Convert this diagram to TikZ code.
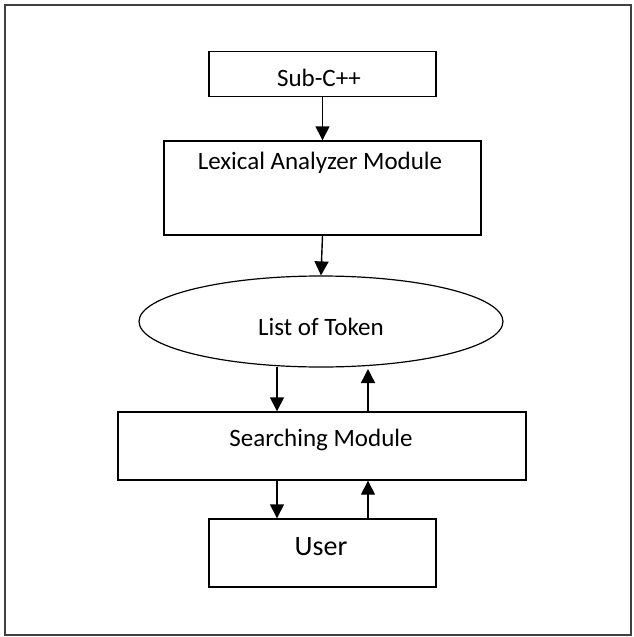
\documentclass[tikz,border=0pt]{standalone}
\usepackage{fontspec}
\setmainfont{Carlito}
\usetikzlibrary{shapes.geometric,arrows.meta}
\begin{document}
\begin{tikzpicture}[x=1pt,y=-1pt,
  box/.style={draw=black,line width=1.4pt,rectangle,inner sep=0pt},
  oval/.style={draw=black,line width=1.2pt,ellipse,inner sep=0pt},
  lbl/.style={font=\fontsize{25}{30}\selectfont},
  arr/.style={draw=black,line width=1.4pt,-{Triangle[length=14pt,width=14pt]}}]
\useasboundingbox (0,0) rectangle (633,637);
\draw[line width=1.6pt,draw=black!75] (5,5) rectangle (631,635);
\node[box,minimum width=227pt,minimum height=45pt] (sub) at (322.5,74) {};
\node[lbl] at (319,78) {Sub-C++};
\node[box,minimum width=317pt,minimum height=94pt] (lex) at (322.5,188) {};
\node[lbl] at (320,163) {Lexical Analyzer Module};
\node[oval,minimum width=364pt,minimum height=91pt] (tok) at (321,321.5) {};
\node[lbl] at (321,327) {List of Token};
\node[box,minimum width=408pt,minimum height=68pt] (srch) at (322,446) {};
\node[lbl] at (321,440) {Searching Module};
\node[box,minimum width=227pt,minimum height=68pt] (user) at (322.5,553) {};
\node[font=\fontsize{28}{34}\selectfont] at (321,547) {User};
\draw[arr] (sub.south) -- (lex.north);
\draw[arr] (lex.south) -- (tok.north);
\draw[arr] (tok.south -| 277,0) ++(0,-1) coordinate (a1) -- (a1 |- srch.north);
\path (srch.north -| 368,0) coordinate (b1);
\draw[arr] (b1) -- (368,369);
\draw[arr] (srch.south -| 277,0) -- (user.north -| 277,0);
\draw[arr] (user.north -| 368,0) -- (srch.south -| 368,0);
\end{tikzpicture}
\end{document}
